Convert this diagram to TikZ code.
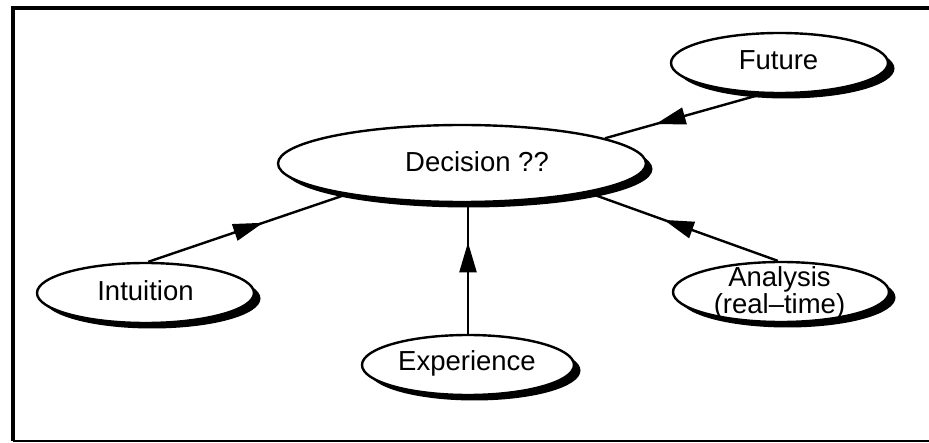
\documentclass[tikz,border=0pt]{standalone}
\usepackage{fontspec}
\setmainfont{Liberation Sans}
\usetikzlibrary{shapes.geometric,shadows,arrows.meta,decorations.markings}
\begin{document}
\begin{tikzpicture}[x=1pt,y=-1pt,
  ell/.style={ellipse, draw=black, line width=2.4pt, fill=white, inner sep=0pt,
     drop shadow={shadow xshift=6.5pt, shadow yshift=-5.5pt, opacity=1, fill=black}},
  lbl/.style={font=\fontsize{27.5}{23}\selectfont, align=center, inner sep=0pt},
  conn/.style={line width=2.4pt, decoration={markings, mark=at position #1 with {\arrow{Triangle[length=30pt,width=17pt]}}}, postaction={decorate}}
]
\useasboundingbox (0,0) rectangle (929,443);
% frame
\draw[line width=3.5pt] (13,441) -- (13,8) -- (929,8);
\draw[line width=1.8pt] (13,441) -- (929,441);

% ellipses
\node[ell, minimum width=368pt, minimum height=77pt] (dec) at (462,163.5) {};
\node[ell, minimum width=217pt, minimum height=60pt] (fut) at (779.5,63) {};
\node[ell, minimum width=217pt, minimum height=60pt] (int) at (145.5,293) {};
\node[ell, minimum width=212pt, minimum height=60pt] (exp) at (468,365) {};
\node[ell, minimum width=216pt, minimum height=60pt] (ana) at (781,292) {};

% labels
\node[lbl] (dect) at ([shift={(15,-1.5)}]dec.center) {Decision ??};
\node[lbl] (futt) at ([shift={(-1,-3)}]fut.center) {Future};
\node[lbl] (intt) at ([shift={(0,-2)}]int.center) {Intuition};
\node[lbl] (expt) at ([shift={(-1,-2)}]exp.center) {Experience};
\node[lbl] (anat) at ([shift={(-1.5,1)}]ana.center) {Analysis\\(real--time)};

% connectors
\draw[conn=0.68] (fut.242) -- (dec.10);
\draw[conn=0.58] (int.85) -- (dec.195);
\draw[conn=0.70] (exp.north) -- (exp.north |- dec.south);
\draw[conn=0.60] (ana.96) -- (dec.347);
\end{tikzpicture}
\end{document}
